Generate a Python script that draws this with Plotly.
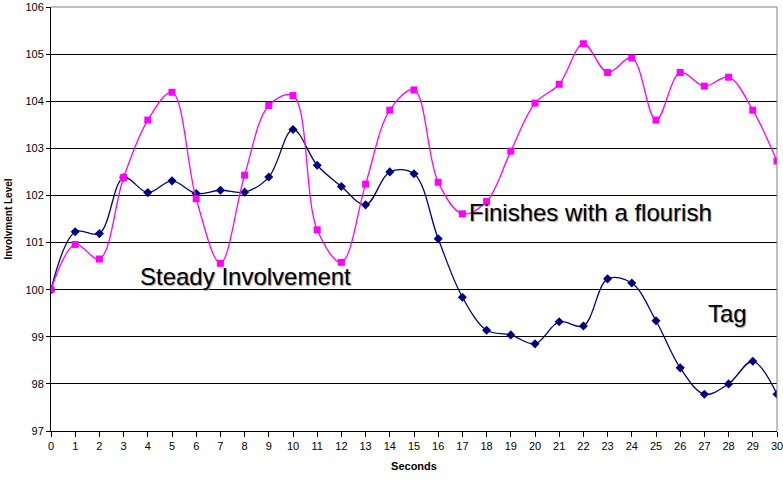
import plotly.graph_objects as go

seconds = list(range(31))
steady = [100.00, 101.23, 101.19, 102.38, 102.06, 102.31, 102.04, 102.11, 102.07, 102.39,
          103.40, 102.64, 102.19, 101.80, 102.50, 102.46, 101.08, 99.84, 99.14, 99.04,
          98.85, 99.32, 99.23, 100.23, 100.14, 99.34, 98.34, 97.78, 98.00, 98.48, 97.78]
flourish = [100.00, 100.96, 100.65, 102.38, 103.60, 104.19, 101.93, 100.56, 102.43, 103.91,
            104.12, 101.27, 100.58, 102.24, 103.81, 104.24, 102.28, 101.61, 101.87, 102.94,
            103.96, 104.36, 105.22, 104.61, 104.92, 103.60, 104.61, 104.32, 104.51, 103.81, 102.73]
y_ticks = [97, 98, 99, 100, 101, 102, 103, 104, 105, 106]
labels = [("Steady Involvement", 3.58, 100.27),
          ("Finishes with a flourish", 17.18, 101.63),
          ("Tag", 27.07, 99.50)]

FONT = "Arial, Liberation Sans, sans-serif"

fig = go.Figure()
fig.add_trace(go.Scatter(
    x=seconds, y=steady, mode="lines+markers",
    line=dict(color="#000080", width=1.3, shape="spline", smoothing=1),
    marker=dict(symbol="diamond", size=7, color="#000080"),
    showlegend=False))
fig.add_trace(go.Scatter(
    x=seconds, y=flourish, mode="lines+markers",
    line=dict(color="#FF00FF", width=1.3, shape="spline", smoothing=1),
    marker=dict(symbol="square", size=7, color="#FF00FF"),
    showlegend=False))

for text, x, y in labels:
    fig.add_annotation(x=x, y=y, text=text, showarrow=False, xanchor="left", yanchor="middle",
                       font=dict(family=FONT, size=24, color="#000000",
                                 shadow="1px 1px 1px #999999"))

fig.update_layout(
    width=783, height=481,
    margin=dict(l=51, r=6, t=7, b=50),
    paper_bgcolor="white", plot_bgcolor="white",
    font=dict(family=FONT, color="#000000"),
    xaxis=dict(range=[0, 30], tickmode="array", tickvals=seconds,
               ticks="outside", ticklen=5, tickcolor="black", tickwidth=1,
               showline=True, linecolor="black", linewidth=1, mirror=False,
               showgrid=False, zeroline=False, automargin=False,
               ticklabeloverflow="allow",
               tickfont=dict(size=11),
               title=dict(text="<b>Seconds</b>", font=dict(size=11), standoff=11)),
    yaxis=dict(range=[97, 106], tickmode="array", tickvals=y_ticks,
               ticks="outside", ticklen=4, tickcolor="black",
               showline=True, linecolor="black", linewidth=1,
               showgrid=True, gridcolor="#000000", gridwidth=1, zeroline=False,
               automargin=False, ticklabeloverflow="allow",
               tickfont=dict(size=11),
               title=dict(text="<b>Involvment Level</b>", font=dict(size=10), standoff=10)),
)
# gray frame on top and right
fig.add_shape(type="line", xref="paper", yref="paper", x0=0, x1=1, y0=1, y1=1,
              line=dict(color="#808080", width=1))
fig.add_shape(type="line", xref="paper", yref="paper", x0=1, x1=1, y0=0, y1=1,
              line=dict(color="#808080", width=1))

fig.write_html("out.html")
